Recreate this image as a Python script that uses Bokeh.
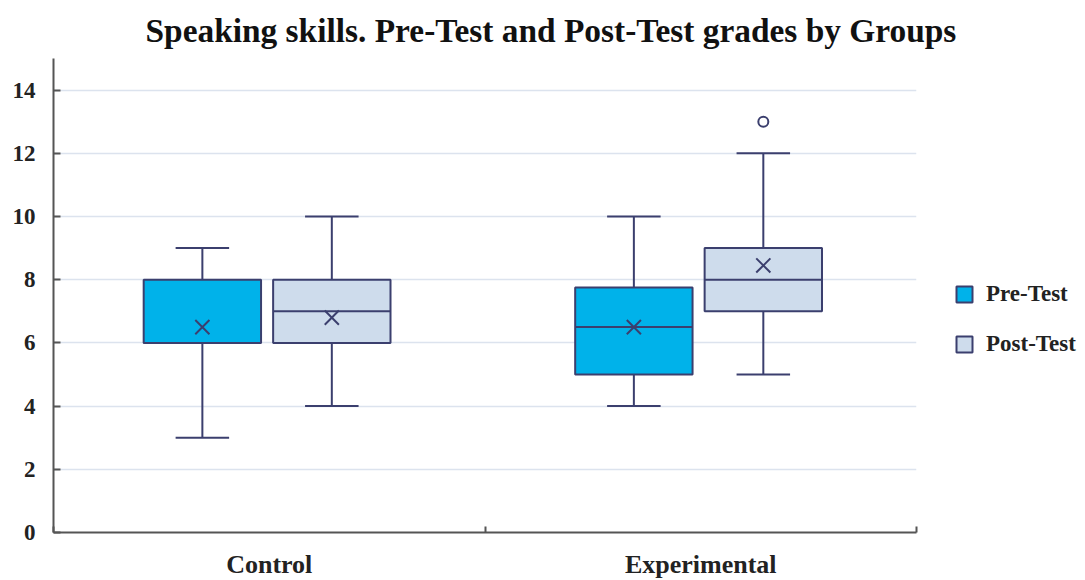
from bokeh.plotting import figure
from bokeh.models import FixedTicker, Legend, LegendItem, Range1d
from bokeh.embed import file_html
from bokeh.resources import INLINE

groups = ["Control", "Experimental"]
tests = ["Pre-Test", "Post-Test"]
# per box: order Control Pre, Control Post, Experimental Pre, Experimental Post
box_group = [0, 0, 1, 1]
box_test = [0, 1, 0, 1]
q1 = [6, 6, 5, 7]
median = [6, 7, 6.5, 8]
q3 = [8, 8, 7.75, 9]
lower = [3, 4, 4, 5]
upper = [9, 10, 10, 12]
mean = [6.5, 6.8, 6.5, 8.45]
outlier_box = [3]
outlier_val = [13]

fills = ["#00B2EA", "#CEDCEC"]
edge = "#3B3F6E"
offsets = [-0.155, 0.145]
bw = 0.272
cap = 0.062

FONT = "Liberation Serif"

p = figure(frame_width=863, frame_height=474, output_backend="svg", toolbar_location=None,
           x_range=Range1d(0, len(groups)), y_range=Range1d(0, 15),
           min_border_left=53, min_border_top=58, min_border_bottom=48, min_border_right=0)
p.outline_line_color = None
p.background_fill_color = "white"
p.border_fill_color = "white"

p.title.text = "Speaking skills. Pre-Test and Post-Test grades by Groups"
p.title.text_font = FONT
p.title.text_font_size = "33.4px"
p.title.text_font_style = "bold"
p.title.text_color = "#111111"
p.title.align = "left"
p.title.offset = 92
p.title.standoff = 19

cx = [box_group[i] + 0.5 + offsets[box_test[i]] for i in range(len(q1))]

renderers = {}
for t in range(len(tests)):
    idx = [i for i in range(len(q1)) if box_test[i] == t]
    xs = [cx[i] for i in idx]
    # whiskers
    p.segment(x0=xs, x1=xs, y0=[q3[i] for i in idx], y1=[upper[i] for i in idx], line_color=edge, line_width=2)
    p.segment(x0=xs, x1=xs, y0=[lower[i] for i in idx], y1=[q1[i] for i in idx], line_color=edge, line_width=2)
    p.segment(x0=[x - cap for x in xs], x1=[x + cap for x in xs], y0=[upper[i] for i in idx],
              y1=[upper[i] for i in idx], line_color=edge, line_width=2)
    p.segment(x0=[x - cap for x in xs], x1=[x + cap for x in xs], y0=[lower[i] for i in idx],
              y1=[lower[i] for i in idx], line_color=edge, line_width=2)
    r = p.vbar(x=xs, width=bw, bottom=[q1[i] for i in idx], top=[q3[i] for i in idx],
               fill_color=fills[t], line_color=edge, line_width=2)
    renderers[t] = r
    p.segment(x0=[x - bw / 2 for x in xs], x1=[x + bw / 2 for x in xs], y0=[median[i] for i in idx],
              y1=[median[i] for i in idx], line_color=edge, line_width=2)
    p.scatter(x=xs, y=[mean[i] for i in idx], marker="x", size=20, line_color=edge, line_width=2)

p.scatter(x=[cx[i] for i in outlier_box], y=outlier_val, marker="circle", size=10,
          fill_color="white", line_color=edge, line_width=2)

# y axis
p.yaxis.ticker = FixedTicker(ticks=list(range(0, 15, 2)))
p.yaxis.major_tick_in = 7
p.yaxis.major_tick_out = 0
p.yaxis.minor_tick_line_color = None
p.yaxis.axis_line_color = "#555555"
p.yaxis.axis_line_width = 2
p.yaxis.major_tick_line_color = "#555555"
p.yaxis.major_tick_line_width = 2
p.yaxis.major_label_text_font = FONT
p.yaxis.major_label_text_font_size = "23px"
p.yaxis.major_label_text_font_style = "bold"
p.yaxis.major_label_text_color = "#222222"
p.yaxis.major_label_standoff = 18

p.ygrid.grid_line_color = "#DCE3EE"
p.ygrid.grid_line_width = 1.5
p.xgrid.grid_line_color = None

# x axis
p.xaxis.ticker = FixedTicker(ticks=[i + 0.5 for i in range(len(groups))],
                             minor_ticks=list(range(len(groups) + 1)))
p.xaxis.major_label_overrides = {i + 0.5: g for i, g in enumerate(groups)}
p.xaxis.major_tick_line_color = None
p.xaxis.minor_tick_in = 6
p.xaxis.minor_tick_out = 0
p.xaxis.minor_tick_line_color = "#555555"
p.xaxis.minor_tick_line_width = 2
p.xaxis.axis_line_color = "#555555"
p.xaxis.axis_line_width = 2
p.xaxis.major_label_text_font = FONT
p.xaxis.major_label_text_font_size = "26px"
p.xaxis.major_label_text_font_style = "bold"
p.xaxis.major_label_text_color = "#222222"
p.xaxis.major_label_standoff = 11

legend = Legend(items=[LegendItem(label=tests[t], renderers=[renderers[t]]) for t in range(len(tests))],
                location=(38, 175), margin=0, padding=8, glyph_width=20, glyph_height=20,
                label_standoff=12, spacing=24, border_line_color=None,
                label_text_font=FONT, label_text_font_size="23px", label_text_font_style="bold",
                label_text_color="#222222", background_fill_alpha=0)
p.add_layout(legend, "right")

open("out.html", "w").write(file_html(p, INLINE))
